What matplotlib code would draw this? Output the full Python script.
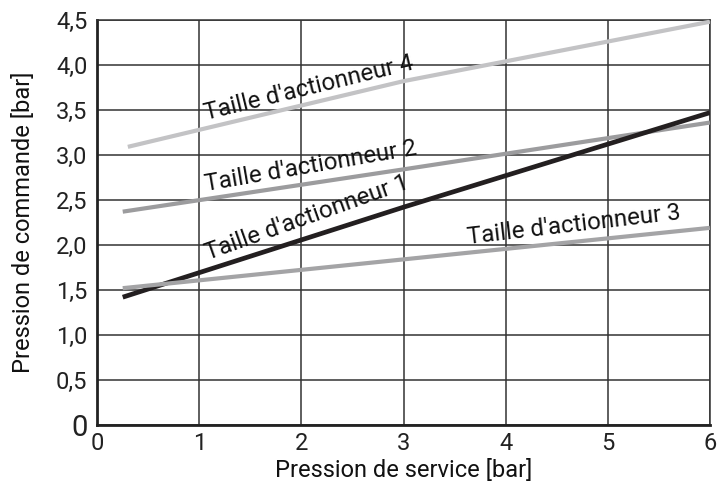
import numpy as np
import matplotlib.pyplot as plt
from matplotlib.ticker import FixedLocator

# ---  DATA  --- #
x_start = [0.3, 0.25, 0.25, 0.25]
x_mid = [3.0, 3.0, 3.0, 3.0]
x_end = [6.0, 6.0, 6.0, 6.0]
size4 = [3.09, 3.82, 4.48]
size2 = [2.37, 2.84, 3.36]
size1 = [1.42, 2.42, 3.47]
size3 = [1.52, 1.84, 2.19]
labels = ["Taille d'actionneur 4", "Taille d'actionneur 2",
          "Taille d'actionneur 1", "Taille d'actionneur 3"]
label_x = [1.08, 1.07, 1.1, 3.64]
y_ticks = [0, 0.5, 1.0, 1.5, 2.0, 2.5, 3.0, 3.5, 4.0, 4.5]
x_ticks = [0, 1, 2, 3, 4, 5, 6]

plt.rcParams['font.family'] = ['Roboto', 'DejaVu Sans']

fig = plt.figure(figsize=(7.2, 4.86), dpi=100)
ax = fig.add_axes([0.135, 0.1255, 0.851, 0.8335])

series = [size4, size2, size1, size3]
colors = ['#c3c3c5', '#9c9c9e', '#231f20', '#a4a4a6']
widths = [3.0, 3.0, 3.4, 3.0]
offsets = [2.0, 2.5, 3.5, 2.5]
for i, ys in enumerate(series):
    xs = [x_start[i], x_mid[i], x_end[i]]
    ax.plot(xs, ys, color=colors[i], lw=widths[i], solid_capstyle='butt',
            zorder=3)
    # label along the line
    lx = label_x[i]
    ly = np.interp(lx, xs, ys)
    ang = np.degrees(np.arctan2(ys[-1] - ys[0], xs[-1] - xs[0]))
    ax.annotate(labels[i], (lx, ly), xytext=(0, offsets[i]),
                textcoords='offset points', ha='left', va='bottom',
                rotation=ang, rotation_mode='anchor',
                transform_rotates_text=True, fontsize=17.3,
                color='#111111', zorder=4)

ax.set_xlim(0, 6)
ax.set_ylim(0, 4.5)
ax.xaxis.set_major_locator(FixedLocator(x_ticks))
ax.yaxis.set_major_locator(FixedLocator(y_ticks))
ax.set_xticklabels([str(v) for v in x_ticks])
ylabels = [f'{v:.1f}'.replace('.', ',') if v else '0' for v in y_ticks]
ax.set_yticklabels(ylabels)
ax.tick_params(length=0, labelsize=17, colors='#222222')
ax.tick_params(axis='y', pad=7)
ax.tick_params(axis='x', pad=5)
ax.get_yticklabels()[0].set_fontsize(21)
ax.grid(True, color='#333333', lw=1.1, zorder=1)
ax.set_axisbelow(True)
for s in ['top', 'right']:
    ax.spines[s].set_linewidth(1.1)
    ax.spines[s].set_color('#333333')
for s in ['left', 'bottom']:
    ax.spines[s].set_linewidth(2.0)
    ax.spines[s].set_color('#222222')
ax.set_xlabel('Pression de service [bar]', fontsize=17, color='#111111',
              labelpad=3)
ax.set_ylabel('Pression de commande [bar]', fontsize=17, color='#111111',
              labelpad=15)

fig.savefig('out.png', dpi=100)
